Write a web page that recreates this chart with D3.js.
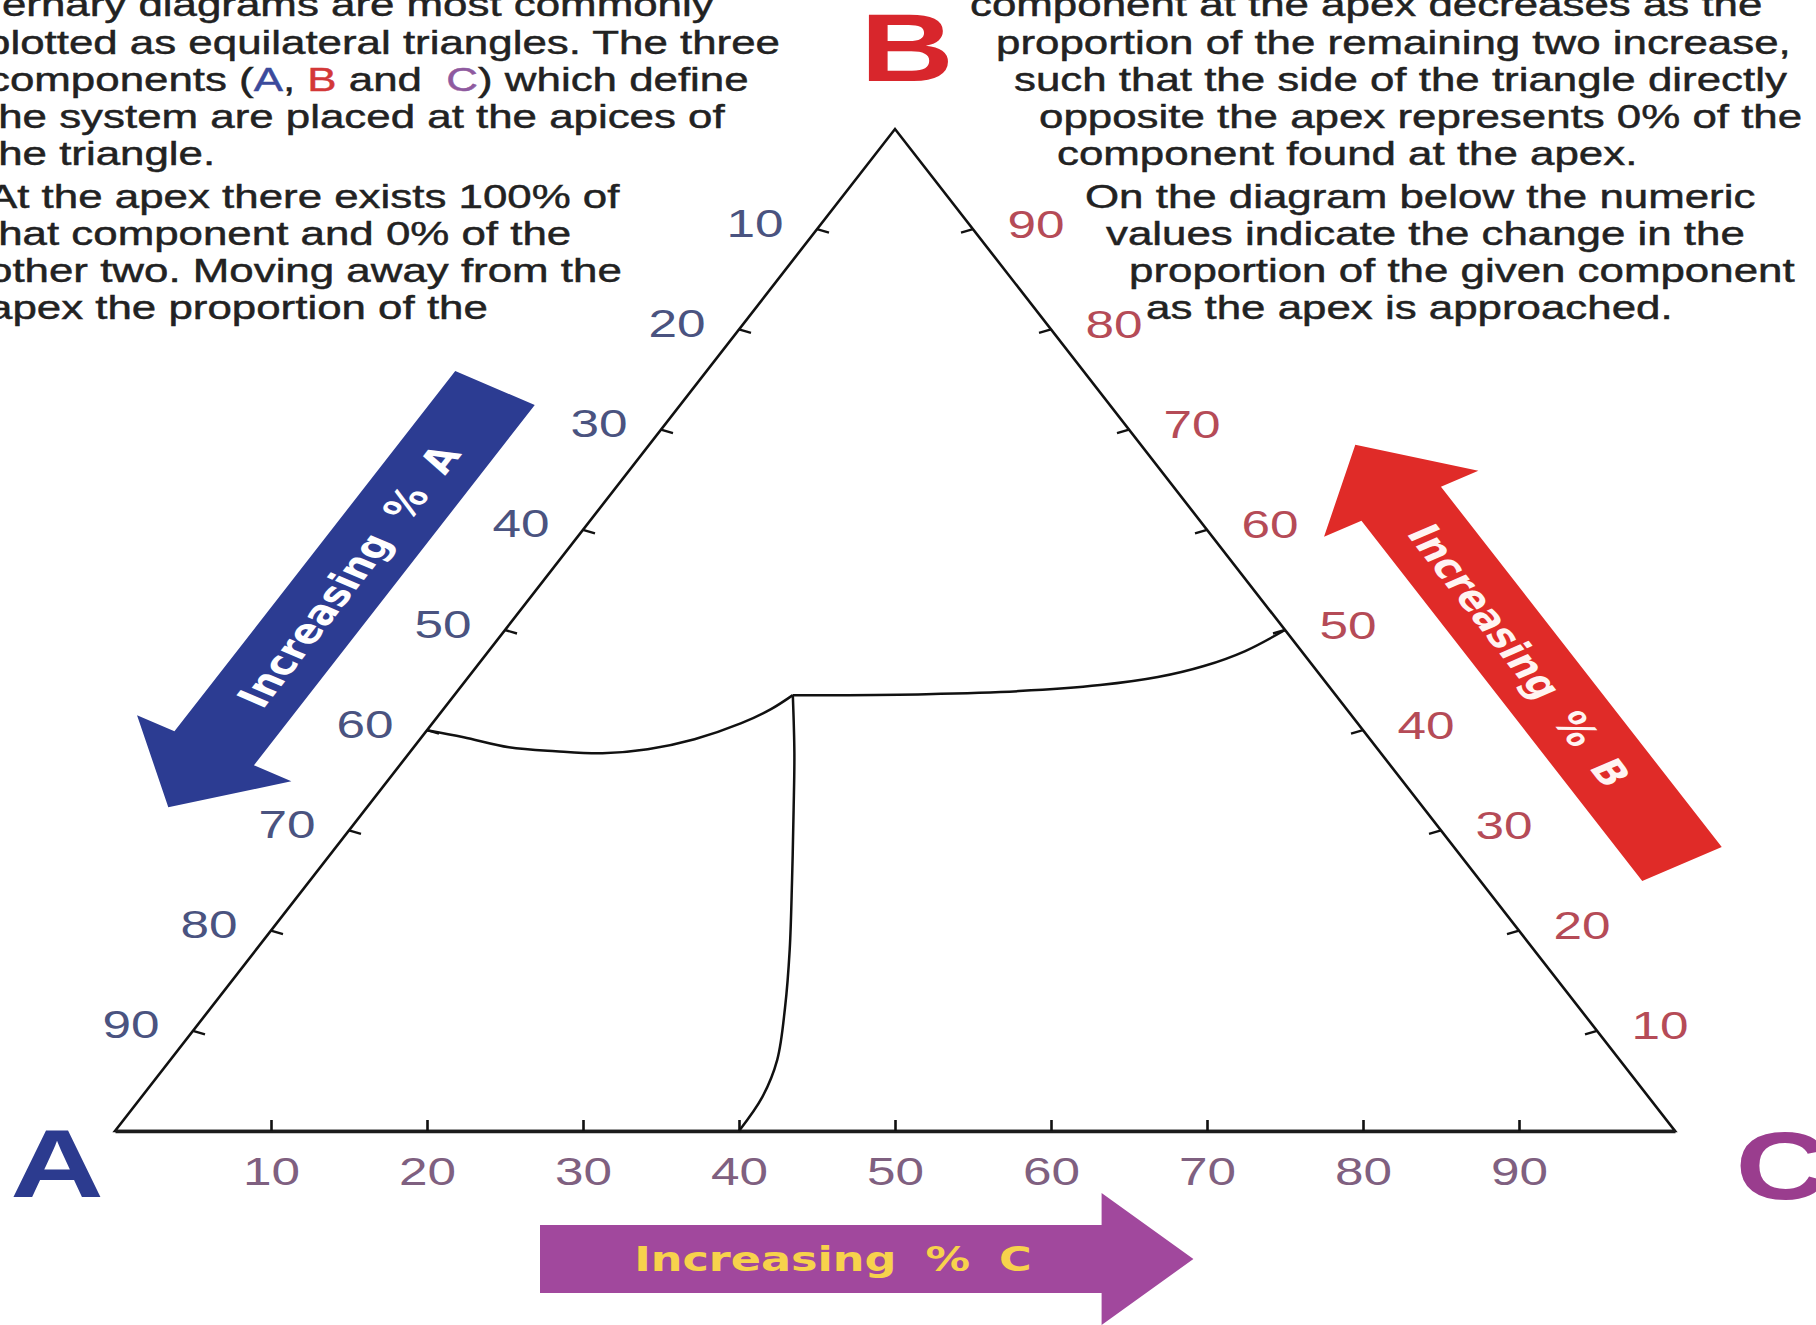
<!DOCTYPE html>
<html>
<head>
<meta charset="utf-8">
<script src="https://cdn.jsdelivr.net/npm/d3@7"></script>
<style>
  body { margin: 0; background: #fff; }
  svg { display: block; font-family: "Liberation Sans", Arial, sans-serif; }
</style>
</head>
<body>
<svg id="chart"></svg>
<script>
// ---- data ----
const ticks = [10, 20, 30, 40, 50, 60, 70, 80, 90];

// phase boundaries, every point is [%A, %B, %C]
const boundaryAB = [
    [60, 40, 0], [58.0, 39.3, 2.7], [55.6, 38.3, 6.1], [52.8, 37.9, 9.3],
    [49.9, 37.7, 12.4], [46.8, 38.1, 15.1], [43.3, 39.1, 17.6],
    [39.5, 40.7, 19.8], [36.9, 42.1, 21.0], [34.8, 43.5, 21.7]
];
const boundaryBC = [
    [34.8, 43.5, 21.7], [32.2, 43.5, 24.3], [26.2, 43.6, 30.2], [20.1, 43.9, 36.0],
    [14.6, 44.5, 40.9], [10.5, 45.3, 44.2], [7.0, 46.4, 46.6], [3.6, 47.9, 48.5],
    [0, 50, 50]
];
const boundaryAC = [
    [34.8, 43.5, 21.7], [37.6, 37.7, 24.7], [40.5, 32.0, 27.5], [44.1, 25.0, 30.9],
    [47.7, 18.1, 34.2], [50.9, 12.3, 36.8], [54.0, 7.1, 38.9], [56.8, 3.4, 39.8],
    [60, 0, 40]
];

const leftNotes = [
    'Ternary diagrams are most commonly',
    'plotted as equilateral triangles. The three',
    'components (|A|, |B| and  |C|) which define',
    'the system are placed at the apices of',
    'the triangle.',
    'At the apex there exists 100% of',
    'that component and 0% of the',
    'other two. Moving away from the',
    'apex the proportion of the'
];
const rightNotes = [
    'component at the apex decreases as the',
    'proportion of the remaining two increase,',
    'such that the side of the triangle directly',
    'opposite the apex represents 0% of the',
    'component found at the apex.',
    'On the diagram below the numeric',
    'values indicate the change in the',
    'proportion of the given component',
    'as the apex is approached.'
];
const arrowLabels = ['Increasing % A', 'Increasing % B', 'Increasing % C'];

// ---- layout ----
const width = 1816;
const height = 1325;
const SX = 1.35; // the picture is stretched sideways, text follows it
const noteBase = [16, 54, 91, 128, 165, 208, 245, 282, 319];
const leftX = [-20, -14, -12, -14, -14, -12, -14, -12, -12];
const rightX = [970, 996, 1014, 1039, 1057, 1085, 1106, 1129, 1146];
const letterColor = { A: '#3b4a9c', B: '#d33838', C: '#8f5a9f' };

let svg = d3.select('#chart')
    .attr('width', width)
    .attr('height', height);

svg.append('rect')
    .attr('width', width)
    .attr('height', height)
    .attr('fill', '#fff');

// x runs along the base (C + B/2), y is %B
let x = d3.scaleLinear().domain([0, 100]).range([115, 1675]);
let y = d3.scaleLinear().domain([0, 100]).range([1131, 129]);

const project = d => {
    const s = d[0] + d[1] + d[2];
    const b = d[1] / s * 100;
    const c = d[2] / s * 100;
    return [x(c + b / 2), y(b)];
};

// notes at the top
function notes(lines, xs) {
    lines.forEach((line, i) => {
        let t = svg.append('text')
            .attr('transform', `translate(${xs[i]},${noteBase[i]}) scale(${SX},1)`)
            .attr('font-size', 32.5)
            .attr('fill', '#222')
            .attr('stroke', '#222')
            .attr('stroke-width', 0.45)
            .style('white-space', 'pre');
        line.split('|').forEach((part, j) => {
            t.append('tspan')
                .attr('fill', j % 2 ? letterColor[part] : null)
                .attr('stroke', j % 2 ? letterColor[part] : null)
                .text(part);
        });
    });
}
notes(leftNotes, leftX);
notes(rightNotes, rightX);

// arrows
const arrowShape = [[0, -34], [416, -34], [416, -66], [484, 0], [416, 66], [416, 34], [0, 34]];
const arrows = [
    { label: arrowLabels[0], tail: [495, 388], angle: 120, textAt: 217, flip: true, fill: '#2c3c92', ink: '#ffffff' },
    { label: arrowLabels[1], tail: [1682, 864], angle: -120, textAt: 241, flip: true, fill: '#e02b28', ink: '#fff4f2' },
    { label: arrowLabels[2], tail: [540, 1259], angle: 0, textAt: 217, flip: false, fill: '#a1489d', ink: '#f7d24c' }
];

arrows.forEach(a => {
    let g = svg.append('g')
        .attr('transform', `translate(${a.tail[0]},${a.tail[1]}) scale(${SX},1) rotate(${a.angle})`);
    g.append('path')
        .attr('d', d3.line()(arrowShape) + 'Z')
        .attr('fill', a.fill);
    g.append('text')
        .attr('transform', `translate(${a.textAt},0) rotate(${a.flip ? 180 : 0})`)
        .attr('text-anchor', 'middle')
        .attr('dy', '0.36em')
        .attr('font-family', '"DejaVu Sans", Verdana, sans-serif')
        .attr('font-weight', 'bold')
        .attr('font-size', 33)
        .attr('word-spacing', 10)
        .attr('fill', a.ink)
        .text(a.label);
});

// triangle
svg.append('path')
    .attr('d', d3.line()([[100, 0, 0], [0, 100, 0], [0, 0, 100]].map(project)) + 'Z')
    .attr('fill', 'none')
    .attr('stroke', '#111')
    .attr('stroke-width', 2.6)
    .attr('stroke-linejoin', 'miter');

// base axis (%C)
let baseAxis = svg.append('g')
    .attr('transform', `translate(0,${y(0)})`)
    .call(d3.axisBottom(x).tickValues(ticks).tickSize(-11).tickSizeOuter(0).tickPadding(27));
baseAxis.attr('font-family', null).attr('font-size', null);
baseAxis.select('.domain').attr('stroke', '#1c1c1c').attr('stroke-width', 3.5);
baseAxis.selectAll('.tick line').attr('stroke', '#111').attr('stroke-width', 2.6);
baseAxis.selectAll('.tick text')
    .attr('fill', '#7f6080')
    .attr('font-size', 38)
    .attr('transform', `scale(${SX},1)`);

// side axes (%A on the left, %B on the right)
const sideAxes = [
    { pos: t => project([t, 100 - t, 0]), tick: [12, 3.5], label: [-62, -6], color: '#4a5380' },
    { pos: t => project([0, t, 100 - t]), tick: [-12, 3.5], label: [63, -5], color: '#b54b57' }
];

sideAxes.forEach(ax => {
    let g = svg.append('g');
    ticks.forEach(t => {
        const p = ax.pos(t);
        g.append('line')
            .attr('x1', p[0]).attr('y1', p[1])
            .attr('x2', p[0] + ax.tick[0]).attr('y2', p[1] + ax.tick[1])
            .attr('stroke', '#111')
            .attr('stroke-width', 2.4);
        g.append('text')
            .attr('transform', `translate(${p[0] + ax.label[0]},${p[1] + ax.label[1]}) scale(${SX},1)`)
            .attr('text-anchor', 'middle')
            .attr('dy', '0.36em')
            .attr('font-size', 38)
            .attr('fill', ax.color)
            .text(t);
    });
});

// boundaries
let boundary = d3.line()
    .x(d => project(d)[0])
    .y(d => project(d)[1])
    .curve(d3.curveCatmullRom.alpha(0.5));

[boundaryAB, boundaryBC, boundaryAC].forEach(b => {
    svg.append('path')
        .attr('d', boundary(b))
        .attr('fill', 'none')
        .attr('stroke', '#111')
        .attr('stroke-width', 2.5);
});

// apex letters
const apexLetters = [
    { name: 'A', at: [57, 1197], color: '#2c3b8f' },
    { name: 'B', at: [907, 81], color: '#d8262c' },
    { name: 'C', at: [1782, 1199], color: '#9a3d8e' }
];
apexLetters.forEach(l => {
    svg.append('text')
        .attr('transform', `translate(${l.at[0]},${l.at[1]}) scale(${SX},1)`)
        .attr('text-anchor', 'middle')
        .attr('font-size', 96)
        .attr('font-weight', 'bold')
        .attr('fill', l.color)
        .text(l.name);
});
</script>
</body>
</html>
